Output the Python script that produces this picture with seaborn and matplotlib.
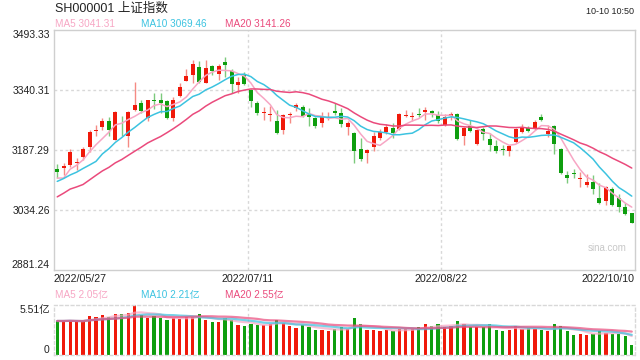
import numpy as np
import pandas as pd
import seaborn as sns
import matplotlib.pyplot as plt

# closes of the 19 sessions before the window (needed for MA5/10/20 at the left edge)
pre_close = [2958, 2975, 3047, 3067, 3001, 3004, 3035, 3058, 3054, 3084,
             3073, 3093, 3086, 3096, 3146, 3146, 3070, 3107, 3123]

open_ = [3140, 3142, 3149, 3154, 3170, 3196, 3236, 3245, 3260, 3214,
         3257, 3223, 3289, 3308, 3268, 3315, 3315, 3311, 3270, 3325,
         3364, 3379, 3398, 3359, 3401, 3381, 3411, 3390, 3353, 3381,
         3340, 3308, 3281, 3277, 3262, 3238, 3277, 3294, 3296, 3278,
         3268, 3255, 3273, 3287, 3281, 3247, 3231, 3190, 3180, 3196,
         3217, 3234, 3244, 3240, 3275, 3271, 3279, 3283, 3286, 3277,
         3251, 3274, 3279, 3223, 3249, 3203, 3240, 3215, 3197, 3189,
         3185, 3208, 3234, 3244, 3242, 3272, 3228, 3248, 3189, 3123,
         3129, 3114, 3098, 3106, 3066, 3058, 3089, 3066, 3041, 3026]
high = [3151, 3153, 3189, 3166, 3196, 3238, 3251, 3268, 3272, 3288,
        3274, 3288, 3360, 3316, 3316, 3333, 3333, 3316, 3323, 3357,
        3394, 3417, 3414, 3417, 3404, 3407, 3425, 3393, 3374, 3385,
        3342, 3311, 3298, 3300, 3289, 3279, 3285, 3308, 3302, 3294,
        3272, 3283, 3283, 3306, 3294, 3260, 3234, 3219, 3189, 3232,
        3240, 3253, 3255, 3281, 3289, 3285, 3295, 3296, 3289, 3287,
        3278, 3285, 3281, 3247, 3265, 3240, 3245, 3230, 3214, 3200,
        3200, 3243, 3254, 3248, 3265, 3278, 3251, 3251, 3192, 3134,
        3140, 3132, 3126, 3123, 3104, 3095, 3092, 3075, 3051, 3027]
low = [3115, 3124, 3143, 3136, 3162, 3183, 3223, 3238, 3223, 3213,
       3223, 3196, 3288, 3281, 3262, 3291, 3281, 3266, 3262, 3322,
       3362, 3359, 3357, 3357, 3379, 3366, 3374, 3332, 3333, 3354,
       3298, 3276, 3265, 3262, 3228, 3227, 3257, 3288, 3272, 3249,
       3243, 3247, 3265, 3277, 3247, 3226, 3155, 3158, 3155, 3186,
       3213, 3228, 3219, 3238, 3272, 3261, 3272, 3265, 3272, 3255,
       3248, 3264, 3213, 3200, 3232, 3200, 3213, 3185, 3180, 3174,
       3173, 3206, 3230, 3234, 3238, 3262, 3221, 3177, 3126, 3102,
       3115, 3092, 3092, 3075, 3050, 3047, 3044, 3030, 3021, 3000]
close = [3132, 3147, 3183, 3157, 3191, 3234, 3238, 3262, 3238, 3285,
         3255, 3285, 3302, 3288, 3315, 3313, 3306, 3268, 3316, 3347,
         3376, 3407, 3361, 3396, 3389, 3401, 3404, 3356, 3361, 3356,
         3313, 3282, 3283, 3280, 3230, 3276, 3279, 3302, 3274, 3272,
         3248, 3272, 3275, 3281, 3253, 3257, 3186, 3164, 3187, 3224,
         3234, 3247, 3230, 3279, 3277, 3274, 3276, 3289, 3281, 3260,
         3272, 3279, 3215, 3244, 3237, 3238, 3228, 3200, 3185, 3187,
         3197, 3240, 3247, 3237, 3259, 3265, 3236, 3202, 3128, 3117,
         3125, 3116, 3106, 3088, 3053, 3092, 3047, 3043, 3024, 3002]

# volume in 亿
volume = [3.75, 3.75, 3.80, 3.70, 3.70, 4.27, 4.16, 4.38, 4.20, 4.50,
          4.50, 4.60, 5.51, 4.38, 4.10, 4.27, 4.10, 3.85, 4.10, 4.00,
          4.20, 4.20, 4.50, 3.90, 3.60, 3.60, 4.10, 3.90, 3.30, 3.20,
          3.45, 3.30, 3.30, 3.45, 3.90, 3.50, 3.20, 3.00, 3.30, 3.05,
          2.80, 2.73, 2.62, 2.85, 3.10, 2.85, 4.05, 3.40, 2.73, 2.80,
          2.62, 2.73, 2.62, 2.85, 2.85, 2.85, 3.10, 3.37, 3.15, 3.37,
          3.10, 3.25, 3.70, 3.45, 3.10, 3.10, 3.10, 3.45, 2.80, 2.62,
          2.80, 3.25, 2.85, 2.96, 2.85, 2.80, 2.62, 3.37, 3.25, 2.62,
          2.25, 2.30, 2.25, 2.36, 2.62, 2.43, 2.36, 2.36, 2.14, 1.15]

y_ticks = [2881.24, 3034.26, 3187.29, 3340.31, 3493.33]
x_ticks = [0, 30, 60, 90]
x_labels = ['2022/05/27', '2022/07/11', '2022/08/22', '2022/10/10']
ma_text = ['MA5 3041.31', 'MA10 3069.46', 'MA20 3141.26']
vol_ma_text = ['MA5 2.05亿', 'MA10 2.21亿', 'MA20 2.55亿']

RED = '#f0190a'
GREEN = '#0e9e0e'
RED_W = '#f58a84'
GREEN_W = '#7cca7c'
MA_COLORS = ['#f7a6c4', '#3cc3e0', '#ea4a7c']
GRID = '#d8d8d8'
EDGE = '#cfcfcf'

sns.set_theme(style='white')
plt.rcParams['font.family'] = ['Liberation Sans', 'Noto Sans CJK SC', 'DejaVu Sans']

n = len(close)
xs = np.arange(n) + 0.5
o = np.array(open_, float)
c = np.array(close, float)
up = c >= o

all_close = pd.Series(pre_close + close, dtype=float)
mas = [all_close.rolling(w).mean().iloc[-n:].to_numpy() for w in (5, 10, 20)]
vol_s = pd.Series(volume)
vol_mas = [vol_s.rolling(w, min_periods=1).mean().to_numpy() for w in (5, 10, 20)]

fig = plt.figure(figsize=(6.4, 3.6), dpi=100)
ax = fig.add_axes([54 / 640, 1 - 270 / 360, 581 / 640, 240 / 360])
axv = fig.add_axes([54 / 640, 1 - 355 / 360, 581 / 640, 50 / 360])

# main price panel
for yv in y_ticks[1:-1]:
    ax.axhline(yv, color=GRID, lw=1, ls=(0, (2, 2)), zorder=0)
for xv in x_ticks[1:-1]:
    ax.axvline(xv, color=GRID, lw=1, ls=(0, (2, 2)), zorder=0)

body_col = [RED if u else GREEN for u in up]
wick_col = [RED_W if u else GREEN_W for u in up]
ax.vlines(xs, low, high, colors=wick_col, lw=1, zorder=2)
body_h = np.maximum(np.abs(c - o), 1.5)
ax.bar(xs, body_h, bottom=np.minimum(o, c), width=0.62, color=body_col,
       linewidth=0, zorder=3)

for ma, col in zip(mas, MA_COLORS):
    sns.lineplot(x=xs, y=ma, ax=ax, color=col, linewidth=1.1, zorder=4)

ax.set_xlim(0, 90)
ax.set_ylim(y_ticks[0], y_ticks[-1])
ax.set_yticks(y_ticks)
ax.set_yticklabels([f'{v:.2f}' for v in y_ticks], fontsize=7.5, color='#222222')
ylabs = ax.get_yticklabels()
ylabs[0].set_va('bottom')
ylabs[-1].set_va('top')
ax.set_xticks(x_ticks)
ax.set_xticklabels(x_labels, fontsize=7.7, color='#222222')
xlabs = ax.get_xticklabels()
xlabs[0].set_ha('left')
xlabs[-1].set_ha('right')
ax.tick_params(length=0, pad=3)
for s in ax.spines.values():
    s.set_color(EDGE)
    s.set_linewidth(1)
ax.text(0.985, 0.09, 'sina.com', transform=ax.transAxes, ha='right', va='center',
        fontsize=7, color='#c8c8c8')

# volume panel
for xv in x_ticks[1:-1]:
    axv.axvline(xv, color=GRID, lw=1, ls=(0, (2, 2)), zorder=0)
axv.bar(xs, volume, width=0.5, color=body_col, linewidth=0, zorder=2)
for ma, col in zip(vol_mas, MA_COLORS):
    sns.lineplot(x=xs, y=ma, ax=axv, color=col, linewidth=1.6, alpha=0.7, zorder=3)
axv.set_xlim(0, 90)
axv.set_ylim(0, 5.51)
axv.set_xticks([])
axv.set_yticks([0, 5.51])
axv.set_yticklabels(['0', '5.51亿'], fontsize=7.5, color='#222222')
vlabs = axv.get_yticklabels()
vlabs[0].set_va('bottom')
vlabs[1].set_va('top')
axv.tick_params(length=0, pad=3)
for s in axv.spines.values():
    s.set_color(GRID)
    s.set_linewidth(1)
    s.set_linestyle((0, (2, 2)))

# header texts
fig.text(55 / 640, 1 - 9 / 360, 'SH000001 上证指数', ha='left', va='center',
         fontsize=9, color='#222222')
fig.text(634 / 640, 1 - 12 / 360, '10-10 10:50', ha='right', va='center',
         fontsize=6.5, color='#222222')
for txt, col, xp in zip(ma_text, MA_COLORS, [55, 141, 225]):
    fig.text(xp / 640, 1 - 24 / 360, txt, ha='left', va='center', fontsize=7.2, color=col)
for txt, col, xp in zip(vol_ma_text, MA_COLORS, [55, 141, 225]):
    fig.text(xp / 640, 1 - 295 / 360, txt, ha='left', va='center', fontsize=7.2, color=col)

fig.savefig('out.png', dpi=100)
